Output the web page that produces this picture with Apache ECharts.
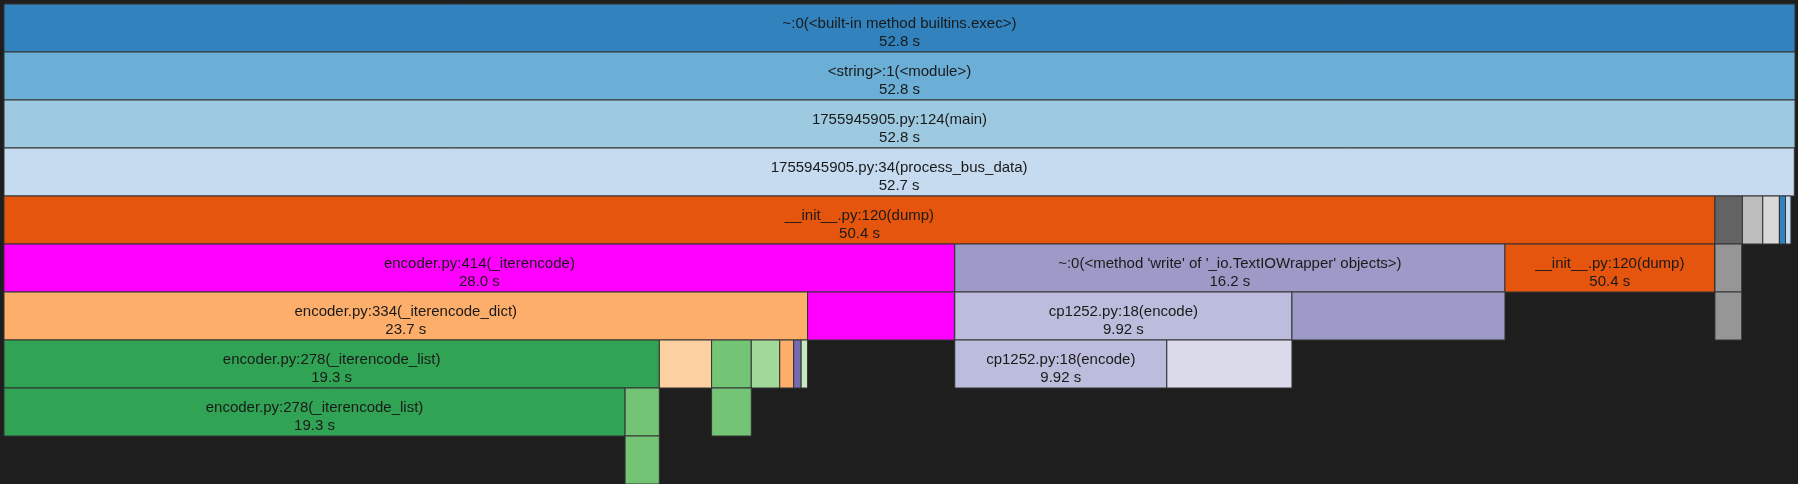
<!DOCTYPE html>
<html>
<head>
<meta charset="utf-8">
<script src="https://cdn.jsdelivr.net/npm/echarts@6/dist/echarts.min.js"></script>
<style>
html,body{margin:0;padding:0;background:#1e1e1e;}
#chart{width:1798px;height:484px;}
</style>
</head>
<body>
<div id="chart"></div>
<script>
// Flame graph nodes (flat arrays, parent index -1 = root)
var nodeNames = [
  "~:0(<built-in method builtins.exec>)",
  "<string>:1(<module>)",
  "1755945905.py:124(main)",
  "1755945905.py:34(process_bus_data)",
  "__init__.py:120(dump)",
  "", "", "", "", "",
  "encoder.py:414(_iterencode)",
  "~:0(<method 'write' of '_io.TextIOWrapper' objects>)",
  "__init__.py:120(dump)",
  "",
  "encoder.py:334(_iterencode_dict)",
  "",
  "cp1252.py:18(encode)",
  "",
  "",
  "encoder.py:278(_iterencode_list)",
  "", "", "", "", "", "",
  "cp1252.py:18(encode)",
  "",
  "encoder.py:278(_iterencode_list)",
  "", "", ""
];
var nodeParents = [-1, 0, 1, 2, 3, 3, 3, 3, 3, 3, 4, 4, 4, 5, 10, 10, 11, 11, 13,
  14, 14, 14, 14, 14, 14, 14, 16, 16, 19, 19, 21, 29];
var nodeSeconds = [52.8, 52.8, 52.8, 52.78, 50.44, 0.81, 0.60, 0.49, 0.18, 0.16,
  28.03, 16.22, 6.18, 0.79, 23.69, 4.33, 9.94, 6.28, 0.79,
  19.32, 1.54, 1.17, 0.84, 0.41, 0.22, 0.19, 6.25, 3.69, 18.31, 1.01, 1.17, 1.01];
var nodeLabels = ["52.8 s", "52.8 s", "52.8 s", "52.7 s", "50.4 s", "", "", "", "", "",
  "28.0 s", "16.2 s", "50.4 s", "", "23.7 s", "", "9.92 s", "", "",
  "19.3 s", "", "", "", "", "", "", "9.92 s", "", "19.3 s", "", "", ""];
var nodeColors = ["#3182bd", "#6baed6", "#9ecae1", "#c6dbef", "#e6550d",
  "#636363", "#bdbdbd", "#d9d9d9", "#3182bd", "#c6dbef",
  "#ff00ff", "#9e9ac8", "#e6550d", "#969696", "#fdae6b", "#ff00ff",
  "#bcbddc", "#9e9ac8", "#969696",
  "#31a354", "#fdd0a2", "#74c476", "#a1d99b", "#fdae6b", "#756bb1", "#c7e9c0",
  "#bcbddc", "#dadaeb", "#31a354", "#74c476", "#74c476", "#74c476"];
var totalSeconds = 52.8;
var levels = 10;

// Layout: children stacked left-aligned inside parent
var starts = [], depths = [], offsets = {};
for (var i = 0; i < nodeNames.length; i++) {
  var p = nodeParents[i];
  if (p < 0) { starts[i] = 0; depths[i] = 0; }
  else {
    if (offsets[p] === undefined) offsets[p] = starts[p];
    starts[i] = offsets[p];
    offsets[p] += nodeSeconds[i];
    depths[i] = depths[p] + 1;
  }
}
var data = nodeNames.map(function (n, i) {
  return { value: [starts[i], starts[i] + nodeSeconds[i], depths[i], i] };
});

var chart = echarts.init(document.getElementById('chart'));
chart.setOption({
  backgroundColor: '#1e1e1e',
  animation: false,
  grid: { left: 4, right: 3, top: 4, bottom: 0 },
  xAxis: { type: 'value', min: 0, max: totalSeconds, show: false },
  yAxis: { type: 'value', min: 0, max: levels, inverse: true, show: false },
  series: [{
    type: 'custom',
    data: data,
    encode: { x: [0, 1], y: 2 },
    renderItem: function (params, api) {
      var s = api.value(0), e = api.value(1), d = api.value(2), idx = api.value(3);
      var p0 = api.coord([s, d]);
      var p1 = api.coord([e, d + 1]);
      var w = p1[0] - p0[0], h = p1[1] - p0[1];
      var children = [{
        type: 'rect',
        shape: { x: p0[0], y: p0[1], width: w, height: h },
        style: { fill: nodeColors[idx], stroke: '#333333', lineWidth: 1 }
      }];
      if (nodeNames[idx]) {
        children.push({
          type: 'text',
          style: {
            x: p0[0] + w / 2, y: p0[1] + h / 2 + 5,
            text: nodeNames[idx] + '\n' + nodeLabels[idx],
            align: 'center', verticalAlign: 'middle',
            fill: '#1a1a1a', fontSize: 15, lineHeight: 18,
            fontFamily: 'Arial, "Liberation Sans", sans-serif'
          }
        });
      }
      return { type: 'group', children: children };
    }
  }]
});
</script>
</body>
</html>
